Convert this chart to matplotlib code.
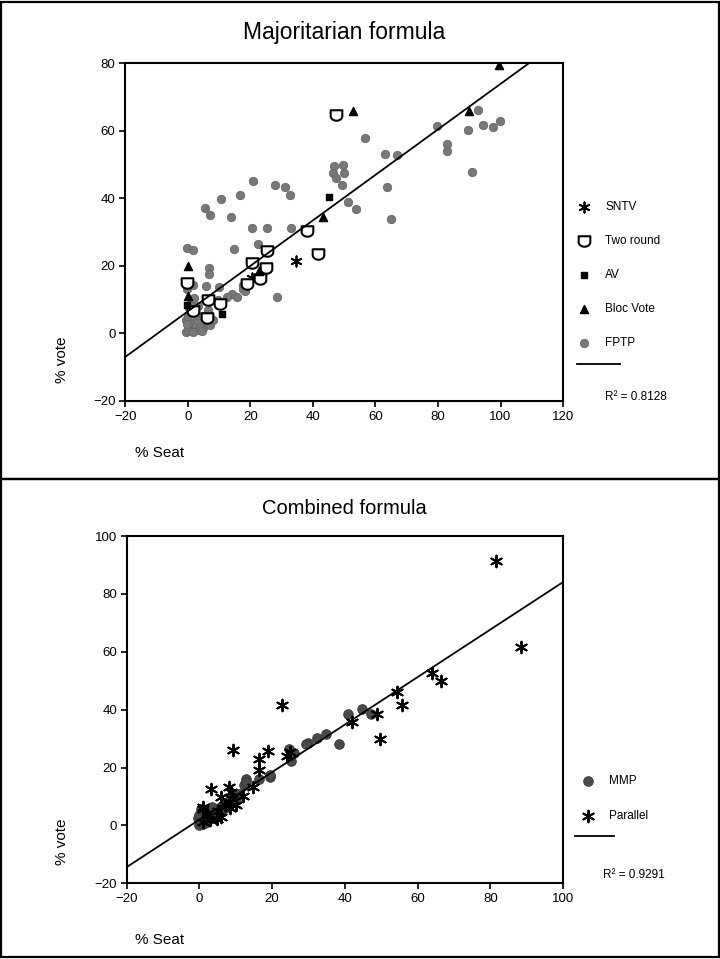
import numpy as np
import matplotlib.pyplot as plt
from matplotlib.path import Path
from matplotlib.lines import Line2D
from matplotlib.patches import Rectangle

plt.rcParams['font.family'] = ['Liberation Sans', 'DejaVu Sans']

# ---- Majoritarian formula data (% seat, % vote) ----
sntv_x = [34.6, 20.5]
sntv_y = [21.5, 16.5]

tworound_x = [47.5, 38.2, 41.5, 25.2, 20.4, 24.9, 23.0, 19.0, -0.3, 10.2, 6.5, 6.0, 1.5]
tworound_y = [64.8, 30.3, 23.5, 24.5, 20.8, 19.5, 16.0, 14.5, 15.0, 8.8, 10.0, 4.5, 6.5]

av_x = [45.0, 10.8, -0.4]
av_y = [40.5, 5.7, 8.4]

bloc_x = [99.6, 90.0, 52.7, -0.1, -0.1, 22.8, 43.3]
bloc_y = [79.4, 65.9, 65.9, 20.0, 11.1, 18.5, 34.5]

fptp_x = [92.7, 79.8, 89.7, 94.3, 97.5, 99.8, 82.8, 82.8, 90.8, 56.6, 63.0, 67.0,
          63.6, 64.9, 46.8, 49.5, 46.5, 50.0, 47.4, 49.2, 31.0, 32.6, 51.3, 53.8,
          32.9, 20.7, 27.8, 16.6, 10.5, 5.5, 7.0, 13.8, 20.4, 25.2, 22.5, -0.4,
          1.7, 14.7, 6.8, 6.8, 17.7, 28.4, -0.2, 1.7, 5.8, 10.0, 14.0, 15.6,
          12.4, 9.7, 3.3, 17.7, 18.2,
          -0.5, 0.0, 0.5, 1.0, -0.5, 0.0, 1.0, 2.0, 2.5, 3.0, 3.5, 4.0, 5.0, 6.0,
          2.0, 0.5, 1.5, 4.5, 7.0, -0.3, 3.0, 5.0, 6.0, 8.0, 1.0, 2.0, 6.5]
fptp_y = [66.1, 61.4, 60.1, 61.7, 61.1, 62.9, 54.0, 56.0, 47.9, 58.0, 53.2, 52.7,
          43.5, 34.0, 49.6, 50.0, 47.6, 47.6, 46.1, 44.0, 43.5, 40.9, 38.9, 36.7,
          31.3, 45.1, 43.9, 40.9, 39.7, 37.1, 35.0, 34.6, 31.1, 31.1, 26.5, 25.4,
          24.7, 24.9, 19.5, 17.5, 14.2, 10.9, 13.0, 14.2, 14.0, 13.7, 11.6, 10.9,
          10.9, 9.9, 8.1, 13.0, 12.5,
          0.5, 1.0, 2.0, 3.0, 4.0, 5.0, 6.0, 1.0, 2.5, 4.0, 1.0, 2.0, 1.5, 3.0,
          7.0, 7.5, 0.5, 0.8, 2.5, 2.8, 5.5, 5.0, 5.5, 4.0, 9.0, 10.5, 7.0]

maj_fit = [0.674, 6.5]      # slope, intercept
maj_r2 = "R² = 0.8128"

# ---- Combined formula data ----
mmp_x = [40.9, 44.6, 47.3, 38.4, 34.9, 32.4, 29.9, 29.3, 24.7, 25.3, 26.0, 12.9,
         12.2, 16.4, 19.4, 19.5, 12.9,
         0.0, 0.5, 0.0, 1.0, 0.3, 1.5, 2.0, 2.5, 3.0, 3.5, 4.0, 4.5, 5.0, 5.5,
         6.0, 6.5, 7.0, 7.5, 8.0, 1.0, 2.0, -0.5, 0.0, 3.0, 4.0, 5.0, 6.0, 7.0,
         8.0, 9.0, 10.0, 0.5, 1.5, 2.5, 3.5, 9.5, 11.0]
mmp_y = [38.6, 40.3, 38.6, 28.0, 31.7, 30.3, 28.5, 28.0, 26.5, 22.2, 25.0, 16.1,
         13.8, 16.1, 16.7, 17.3, 15.0,
         0.0, 1.0, 2.0, 3.0, 4.0, 1.5, 2.5, 3.0, 3.5, 4.0, 4.5, 5.0, 5.5, 6.0,
         6.5, 7.0, 7.5, 8.0, 8.5, 0.5, 1.0, 2.5, 3.5, 2.5, 3.5, 4.0, 5.0, 6.0,
         7.0, 8.0, 9.0, 5.5, 4.5, 5.5, 6.5, 10.5, 11.0]

par_x = [81.5, 88.4, 63.9, 66.4, 54.2, 55.6, 49.6, 48.9, 42.0, 22.8, 9.3, 16.3,
         18.9, 16.4, 3.3, 8.2, 8.8, 14.6, 12.0, 1.0, 6.0, 4.7, 1.0, 2.0, 5.0,
         7.0, 8.0, 9.0, 10.0, 3.0, 1.0, 6.0, 8.5, 25.0, 24.0]
par_y = [91.3, 61.7, 52.5, 49.9, 46.1, 41.5, 30.0, 38.6, 35.7, 41.5, 25.9, 23.0,
         25.6, 19.0, 12.7, 13.2, 11.5, 13.2, 10.0, 6.3, 9.8, 2.3, 5.8, 4.0, 5.0,
         7.0, 8.0, 9.0, 7.0, 2.0, 1.0, 3.0, 6.0, 25.5, 24.0]

comb_fit = [0.821, 2.0]
comb_r2 = "R² = 0.9291"

# open "two round" marker: square top, rounded bottom
ang = np.linspace(0, -np.pi, 20)
cup = np.vstack([[-1, 0.9], [1, 0.9], [1, -0.1],
                 np.c_[np.cos(ang), np.sin(ang) * 0.8 - 0.1][1:-1], [-1, -0.1], [-1, 0.9]])
cup_marker = Path(cup, closed=True)
asterisk = (6, 2, 0)

fig = plt.figure(figsize=(7.2, 9.59), dpi=100)

# panel frames
fig.add_artist(Rectangle((0.002, 0.501), 0.996, 0.497, transform=fig.transFigure,
                         fill=False, lw=1.6, ec='black'))
fig.add_artist(Rectangle((0.002, 0.002), 0.996, 0.499, transform=fig.transFigure,
                         fill=False, lw=1.6, ec='black'))


def style_axes(ax, xlim, ylim, xticks, yticks):
    ax.set_xlim(xlim)
    ax.set_ylim(ylim)
    ax.set_xticks(xticks)
    ax.set_yticks(yticks)
    for s in ax.spines.values():
        s.set_linewidth(1.5)
    ax.tick_params(direction='out', length=4, width=1.2, labelsize=9.5, pad=3)


# ---------- top: majoritarian ----------
ax1 = fig.add_axes([0.174, 0.582, 0.608, 0.352])
style_axes(ax1, (-20, 120), (-20, 80), range(-20, 121, 20), range(-20, 81, 20))
h_fptp = ax1.scatter(fptp_x, fptp_y, s=36, marker='o', c='#787878', edgecolors='#666666',
                     linewidths=0.6, label='FPTP', zorder=2)
h_sntv = ax1.scatter(sntv_x, sntv_y, s=55, marker=asterisk, c='black', linewidths=1.3,
                     label='SNTV', zorder=3)
h_two = ax1.scatter(tworound_x, tworound_y, s=70, marker=cup_marker, facecolors='white',
                    edgecolors='black', linewidths=1.5, label='Two round', zorder=3)
h_av = ax1.scatter(av_x, av_y, s=14, marker='s', c='black', label='AV', zorder=3)
h_bloc = ax1.scatter(bloc_x, bloc_y, s=34, marker='^', c='black', label='Bloc Vote', zorder=3)
xs = np.array([-20, 120])
ax1.plot(xs, maj_fit[0] * xs + maj_fit[1], color='black', lw=1.3, zorder=4)

ax1.legend(handles=[h_sntv, h_two, h_av, h_bloc, h_fptp], loc='upper left',
           bbox_to_anchor=(0.803, 0.790), bbox_transform=fig.transFigure,
           frameon=False, fontsize=8.5, labelspacing=1.85, handlelength=1.0,
           handletextpad=1.3, borderpad=0, borderaxespad=0)
fig.add_artist(Line2D([0.801, 0.861], [1 - 364 / 959] * 2, transform=fig.transFigure,
                      color='black', lw=1.3))
fig.text(0.840, 1 - 397 / 959, maj_r2, fontsize=8.5, va='center', ha='left')

fig.text(0.478, 1 - 33 / 959, "Majoritarian formula", fontsize=16.5, ha='center', va='center')
fig.text(0.086, 1 - 360 / 959, "% vote", fontsize=11, rotation=90, ha='center', va='center')
fig.text(0.188, 1 - 453 / 959, "% Seat", fontsize=11, ha='left', va='center')

# ---------- bottom: combined ----------
ax2 = fig.add_axes([0.176, 0.079, 0.606, 0.362])
style_axes(ax2, (-20, 100), (-20, 100), range(-20, 101, 20), range(-20, 101, 20))
h_mmp = ax2.scatter(mmp_x, mmp_y, s=48, marker='o', c='#4a4a4a', edgecolors='#333333',
                    linewidths=0.6, label='MMP', zorder=2)
h_par = ax2.scatter(par_x, par_y, s=70, marker=asterisk, c='black', linewidths=1.4,
                    label='Parallel', zorder=3)
xs2 = np.array([-20, 100])
ax2.plot(xs2, comb_fit[0] * xs2 + comb_fit[1], color='black', lw=1.3, zorder=4)

ax2.legend(handles=[h_mmp, h_par], loc='upper left',
           bbox_to_anchor=(0.808, 1 - 775 / 959), bbox_transform=fig.transFigure,
           frameon=False, fontsize=8.5, labelspacing=1.95, handlelength=1.0,
           handletextpad=1.3, borderpad=0, borderaxespad=0)
fig.add_artist(Line2D([0.799, 0.853], [1 - 836 / 959] * 2, transform=fig.transFigure,
                      color='black', lw=1.3))
fig.text(0.837, 1 - 875 / 959, comb_r2, fontsize=8.5, va='center', ha='left')

fig.text(0.478, 1 - 508 / 959, "Combined formula", fontsize=14.5, ha='center', va='center')
fig.text(0.086, 1 - 842 / 959, "% vote", fontsize=11, rotation=90, ha='center', va='center')
fig.text(0.188, 1 - 940 / 959, "% Seat", fontsize=11, ha='left', va='center')

plt.savefig('out.png', dpi=100)
